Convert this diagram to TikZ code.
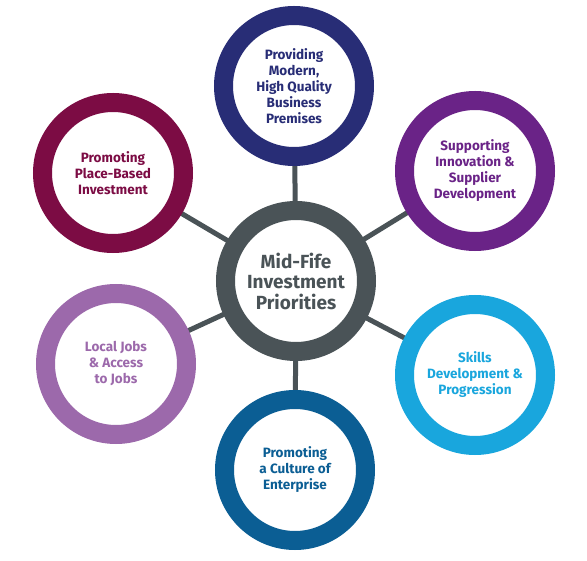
\documentclass[tikz,border=0pt]{standalone}
\usepackage{fontspec}
\setmainfont{Fira Sans}
\usetikzlibrary{backgrounds}
\definecolor{cgray}{HTML}{4A5357}
\definecolor{cnavy}{HTML}{282D76}
\definecolor{cmaroon}{HTML}{7C0C44}
\definecolor{cpurple}{HTML}{6A2387}
\definecolor{clav}{HTML}{9C69AB}
\definecolor{csky}{HTML}{19A6DD}
\definecolor{cblue}{HTML}{0B5E94}
\tikzset{
  ring/.style={circle, draw=#1, line width=19pt, fill=white, minimum size=141pt, inner sep=0pt,
    text=#1, align=center, font=\bfseries\fontsize{13.5}{16}\selectfont},
  conn/.style={draw=cgray, line width=5pt}
}
\begin{document}
\begin{tikzpicture}[x=1pt,y=-1pt]
\useasboundingbox (0,0) rectangle (587,561);
\node[ring=cgray, font=\bfseries\fontsize{19}{20.5}\selectfont] (c) at (296,281) {Mid-Fife\\Investment\\Priorities};
\node[ring=cnavy] (t) at (294,86) {Providing\\Modern,\\High Quality\\Business\\Premises};
\node[ring=cmaroon] (tl) at (113,173) {Promoting\\Place-Based\\Investment};
\node[ring=cpurple] (tr) at (475,171) {Supporting\\Innovation \&\\Supplier\\Development};
\node[ring=clav] (l) at (116,364) {Local Jobs\\\& Access\\to Jobs};
\node[ring=csky] (br) at (475,375) {Skills\\Development \&\\Progression};
\node[ring=cblue] (b) at (295,470) {Promoting\\a Culture of\\Enterprise};
\begin{scope}[on background layer]
\draw[conn] (c.center) -- (t.center);
\draw[conn] (c.center) -- (tl.center);
\draw[conn] (c.center) -- (tr.center);
\draw[conn] (c.center) -- (l.center);
\draw[conn] (c.center) -- (br.center);
\draw[conn] (c.center) -- (b.center);
\end{scope}
\end{tikzpicture}
\end{document}
